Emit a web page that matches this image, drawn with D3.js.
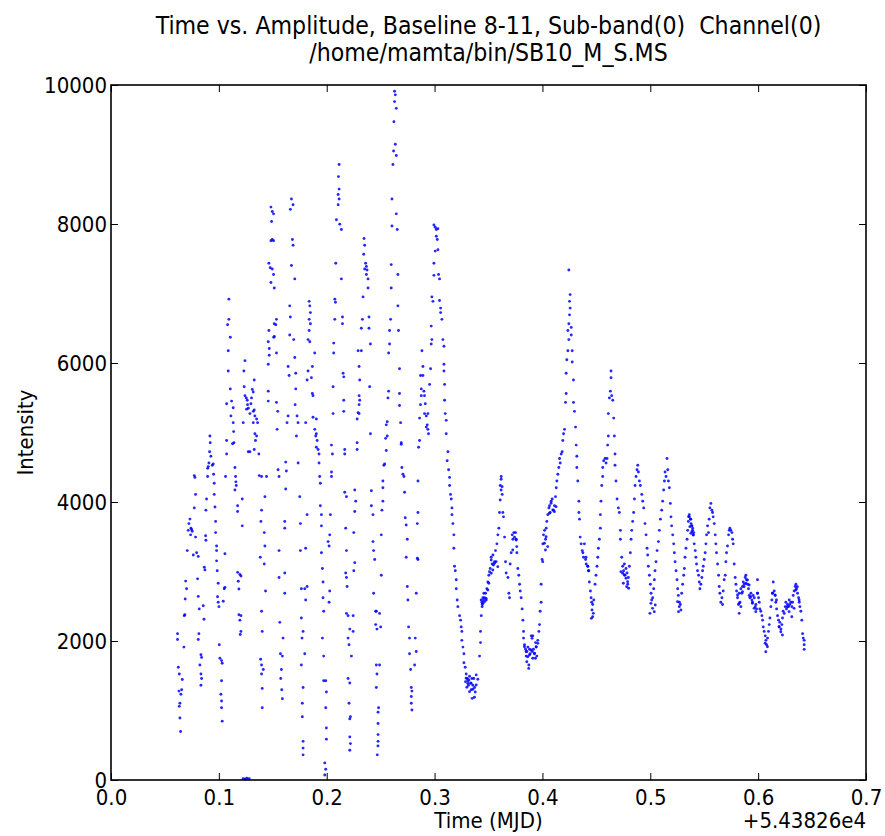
<!DOCTYPE html>
<html>
<head>
<meta charset="utf-8">
<script src="https://cdn.jsdelivr.net/npm/d3@7"></script>
<style>
  body { margin: 0; background: #fff; }
  text { font-family: "DejaVu Sans Condensed", "DejaVu Sans", sans-serif; fill: #000; white-space: pre; }
</style>
</head>
<body>
<script>
// [time (MJD - 54382.6), intensity], grouped by stretch of time
const seg1 = [
  [.0617,2106],[.0617,2022],[.0676,1912],[.0624,1622],[.0633,1525],[.0661,1447],[.0630,1279],[.0655,1299],
  [.0648,1234],[.0639,1105],[.0633,1060],[.0639,892],[.0645,698],[.0679,2365],[.0685,2378],[.0692,2862],
  [.0701,2752],[.0688,2604],[.0707,3301],[.0716,3592],[.0722,3689],[.0732,3754],[.0741,3624],[.0747,3605],
  [.0753,3579],[.0738,3527],[.0784,3495],[.0794,3269],[.0772,3915],[.0784,4109],[.0772,4380],[.0778,4354],
  [.0763,3237],[.0809,3217],[.0803,2894],[.0809,2642],[.0818,2462],[.0815,2106],[.0809,2022],[.0834,1803],
  [.0840,1764],[.0824,1654],[.0834,1525],[.0840,1460],[.0834,1363],[.0855,2507],[.0862,2313],[.0865,3062],
  [.0871,3023],[.0877,3514],[.0880,3450],[.0880,3883],[.0886,4044],[.0896,4367],[.0896,4484],[.0902,4509],
  [.0908,4561],[.0914,4723],[.0920,4852],[.0917,4949],[.0926,4658],[.0939,4529],[.0948,4548],[.0951,4400],
  [.0957,4270],[.0957,4109],[.0964,3928],[.0970,3721],[.0970,3560],[.0979,3366],[.0979,3301],[.0979,3153],
  [.0985,3011],[.0994,2830],[.0988,2636],[.0994,2558],[.1001,2494],[.1041,2571],[.1050,2752],[.1056,2772],
  [.1056,3256],[.1004,1945],[.1010,1751],[.1025,1718],[.1031,1680],[.1025,1428],[.1019,1234],[.1025,1137],
  [.1025,1040],[.1031,847],[.1093,6919],[.1093,6628],[.1081,6551],[.1106,6370],[.1087,6176],[.1087,5885],
  [.1106,5627],[.1072,5414],[.1118,5452],[.1133,5356],[.1112,5239],[.1133,5142],[.1137,5013],[.1127,4839],
  [.1140,4852],[.1072,4884],[.1072,4690],[.1062,4367],[.1149,4496],[.1155,4367],[.1158,4290],[.1161,4238],
  [.1149,4173],[.1174,3947],[.1174,3863],[.1217,4044],[.1217,3657],[.1174,2988],[.1195,2956],[.1205,2936],
  [.1180,2859],[.1186,2749],[.1186,2377],[.1205,2365],[.1195,2300],[.1205,2138],[.1198,2093],[.1242,6034],
  [.1232,5885],[.1235,5659],[.1242,5530],[.1254,5498],[.1263,5465],[.1266,5401],[.1257,5336],[.1273,5349],
  [.1288,5272],[.1226,5142],[.1310,5620],[.1319,5582],[.1303,5498],[.1297,5414],[.1319,5304],[.1328,5323],
  [.1334,5239],[.1350,5194],[.1319,5142],[.1334,4981],[.1350,4949],[.1359,5142],[.1340,4884],[.1328,4755],
  [.1288,4723],[.1273,4723],[.1371,4690],[.1374,4380],[.1396,4367],[.1328,5756],[.1396,2429],[.1402,2138],
  [.1387,1738],[.1396,1654],[.1412,1589],[.1396,1525],[.1402,1318],[.1402,1040],[.1384,3204],[.1390,3721],
  [.1396,3883],[.1427,4077],[.1421,3560],[.1427,3366],[.1421,3108],[.1433,2720],[.1442,4367],[.1464,6467],
  [.1458,6305],[.1467,6208],[.1467,6111],[.1458,5982],[.1458,5595],[.1458,5452],[.1514,6564],[.1514,6383],
  [.1483,8243],[.1495,8179],[.1507,8146],[.1489,8036],[.1483,7759],[.1495,7778],[.1507,7759],[.1464,7436],
  [.1476,7371],[.1495,7352],[.1483,7158],[.1507,7274],[.1514,7080],[.1226,20],[.1245,15],[.1260,25],[.1281,20]
];
const seg2 = [
  [.1534,6628],[.1528,6551],[.1509,6370],[.1534,6144],[.1534,5433],[.1546,5304],[.1540,5045],[.1549,4464],
  [.1558,4367],[.1620,4574],[.1626,4445],[.1620,4186],[.1558,3301],[.1611,3721],[.1611,3624],[.1611,2979],
  [.1558,2914],[.1611,2688],[.1565,2268],[.1595,2042],[.1571,1816],[.1589,1783],[.1580,1589],[.1574,1460],
  [.1583,1299],[.1589,1170],[.1673,8360],[.1688,8276],[.1663,8211],[.1682,7778],[.1688,7694],[.1673,7403],
  [.1704,7210],[.1657,6822],[.1663,6661],[.1657,6402],[.1694,6337],[.1642,5950],[.1651,5821],[.1704,6079],
  [.1713,5853],[.1713,5627],[.1707,5401],[.1725,5239],[.1734,5142],[.1719,4949],[.1642,5239],[.1632,5142],
  [.1735,4561],[.1750,4077],[.1756,3689],[.1756,3301],[.1765,2752],[.1765,2332],[.1781,2138],[.1771,2042],
  [.1765,1654],[.1796,1816],[.1781,1331],[.1774,1105],[.1774,911],[.1781,556],[.1781,459],[.1781,362],
  [.1837,6887],[.1843,6822],[.1849,6725],[.1837,6628],[.1849,6564],[.1837,6467],[.1827,6337],[.1843,6305],
  [.1889,6144],[.1867,5950],[.1827,5885],[.1858,5789],[.1818,5756],[.1867,5562],[.1873,5530],[.1805,5142],
  [.1873,5220],[.1904,5194],[.1889,5045],[.1904,4981],[.1898,4949],[.1911,4884],[.1904,4787],[.1920,4755],
  [.1929,4690],[.1929,4561],[.1935,4367],[.1941,4270],[.1818,3818],[.1805,3334],[.1796,2752],[.1805,2591],
  [.1818,2785],[.1941,3947],[.1951,3818],[.1951,3657],[.1951,3269],[.1960,3043],[.1966,2849],[.1966,2623],
  [.1972,2429],[.1960,2042],[.1972,1783],[.1972,1428],[.1991,1428],[.1997,1266],[.1991,1040],[.1997,749],
  [.1997,588],[.1982,246],[.1991,155],[.1982,71],[.2013,3430],[.2022,3366],[.2028,3527],[.2034,3818],
  [.2028,2720],[.2022,2558]
];
const seg3 = [
  [.2115,8857],[.2109,8682],[.2115,8502],[.2106,8424],[.2115,8360],[.2106,8276],[.2090,8062],[.2121,7998],
  [.2136,7920],[.2084,7436],[.2136,7210],[.2075,6919],[.2081,6874],[.2075,6628],[.2146,6661],[.2146,6564],
  [.2065,6286],[.2065,6144],[.2152,5853],[.2158,5801],[.2059,5659],[.2059,5272],[.2158,5465],[.2158,5304],
  [.2044,4819],[.2053,4690],[.2167,4755],[.2167,4690],[.2044,4432],[.2044,4367],[.2167,4141],[.2183,4077],
  [.2176,3624],[.2183,3301],[.2176,2979],[.2183,2914],[.2189,2785],[.2183,2397],[.2198,2365],[.2214,2171],
  [.2198,2042],[.2207,1945],[.2229,1783],[.2198,1460],[.2214,1395],[.2207,1105],[.2214,879],[.2220,911],
  [.2214,620],[.2220,524],[.2214,427],[.2260,4173],[.2269,4012],[.2260,3863],[.2251,3560],[.2260,3127],
  [.2251,3011],[.2245,2365],[.2245,2138],[.2291,6176],[.2300,5950],[.2306,5756],[.2300,5530],[.2306,5465],
  [.2300,5401],[.2291,5285],[.2300,5272],[.2282,5194],[.2282,4852],[.2282,4755],[.2346,7791],[.2352,7694],
  [.2343,7565],[.2361,7436],[.2368,7390],[.2352,7352],[.2374,7339],[.2368,7274],[.2383,7210],[.2383,7080],
  [.2337,6951],[.2331,6628],[.2392,6661],[.2321,6499],[.2392,6499],[.2321,6176],[.2405,6273],[.2398,5659],
  [.2405,4981],[.2414,4161],[.2414,3947],[.2429,3818],[.2429,3430],[.2435,3301],[.2445,3172],[.2435,2688],
  [.2454,2429],[.2454,2236],[.2466,2171],[.2460,1654],[.2466,1525],[.2460,1331],[.2476,976],[.2476,814],
  [.2476,653],[.2476,556],[.2460,2429],[.2469,362],[.2475,491],[.2481,1040],[.2490,1654],[.2500,2203],
  [.2490,2397]
];
const seg4 = [
  [.2506,2946],[.2506,3527],[.2512,3883],[.2521,4012],[.2521,4206],[.2521,4303],[.2530,4529],[.2537,4548],
  [.2552,4742],[.2546,4916],[.2561,4949],[.2552,5110],[.2561,5155],[.2568,5498],[.2574,5595],[.2574,6144],
  [.2583,6273],[.2583,6467],[.2592,6628],[.2598,7080],[.2598,7416],[.2605,7972],[.2605,8360],[.2614,8857],
  [.2620,9051],[.2623,9471],[.2629,9761],[.2629,9910],[.2636,9858],[.2645,9664],[.2636,9148],[.2645,8986],
  [.2645,8146],[.2654,7920],[.2660,7274],[.2660,6822],[.2666,6467],[.2675,5918],[.2675,5562],[.2675,5388],
  [.2685,5142],[.2691,4852],[.2691,4832],[.2697,4496],[.2707,4400],[.2716,4367],[.2722,4141],[.2728,3773],
  [.2737,3670],[.2747,3463],[.2737,3204],[.2747,2785],[.2753,2591],[.2759,2203],[.2768,2042],[.2768,1816],
  [.2778,1589],[.2784,1331],[.2790,1279],[.2784,1201],[.2784,1105],[.2790,1008],[.2830,1848],[.2815,1654],
  [.2821,2042],[.2830,2688],[.2840,3191],[.2846,3172],[.2840,3689],[.2846,3850],[.2846,4303],[.2852,4787],
  [.2861,4884],[.2861,5207],[.2870,5401],[.2877,5530],[.2877,5627],[.2883,6176],[.2892,5950],[.2870,5821],
  [.2892,5821],[.2901,5595],[.2907,5530],[.2914,5414],[.2907,5272],[.2923,5239],[.2938,5272],[.2932,5110],
  [.2938,5045],[.2944,4981],[.2923,5078],[.2954,5692],[.2963,5918],[.2969,6531],[.2975,6337],[.2969,6273],
  [.2994,7985],[.3006,7953],[.3016,7920],[.3031,7933],[.3016,7823],[.3025,7778],[.3006,7610],[.3031,7629],
  [.2994,7436],[.2994,7261],[.3037,7274],[.3046,7210],[.2975,6951],[.2985,6887],[.3046,6900],[.3056,6790],
  [.3056,6725],[.3068,6628],[.3077,6337],[.3087,6241],[.3087,5982],[.3087,5885],[.3093,5692],[.3093,5465],
  [.3099,5272],[.3108,5175],[.3108,4981],[.3124,4723],[.3117,4593],[.3130,4464],[.3139,4354],[.3139,4238],
  [.3148,4109],[.3155,4044],[.3161,3915],[.3161,3818],[.3170,3689],[.3179,3527],[.3179,3334],[.3185,3075],
  [.3192,3011],[.3201,2882],[.3201,2752],[.3210,2591],[.3216,2494],[.3232,2365],[.3241,2300],[.3247,2203],
  [.3253,2138],[.3253,2009],[.3263,1912],[.3272,1816],[.3272,1687],[.3284,1622],[.3293,1525],[.3303,1460],
  [.3309,1428],[.3324,1492],[.3334,1395],[.3346,1460],[.3355,1363],[.3364,1460],[.3371,1331],[.3377,1266],
  [.3386,1512],[.3315,1363],[.3340,1299],[.3417,1783],[.3426,1977],[.3426,2138],[.3433,2365],[.3439,2558],
  [.3448,2623],[.3457,2688],
  [.3293,1463],[.3318,1439],[.3339,1391],[.3299,1334],[.3355,1305],[.3324,1271],[.3386,1367],[.3401,1449],
  [.3370,1190],[.3349,1175],[.3308,1391],[.3287,1415]
];
const seg5 = [
  [.3442,2526],[.3454,2591],[.3463,2623],[.3473,2688],[.3479,2591],[.3485,2752],[.3494,2849],[.3503,2946],
  [.3516,3043],[.3525,3204],[.3534,3108],[.3541,3237],[.3556,3140],[.3565,3301],[.3578,3398],[.3587,3527],
  [.3596,3624],[.3602,3850],[.3609,4238],[.3618,4367],[.3627,4109],[.3633,3850],[.3639,3786],[.3649,3495],
  [.3658,3140],[.3664,2979],[.3680,2914],[.3689,2688],[.3695,2623],[.3701,3108],[.3710,3269],[.3720,3527],
  [.3726,3463],[.3735,3560],[.3751,3560],[.3757,3463],[.3763,3269],[.3772,3043],[.3781,2946],[.3788,2817],
  [.3794,2720],[.3803,2623],[.3812,2462],[.3819,2300],[.3825,2138],[.3825,2042],[.3834,1945],[.3843,1881],
  [.3849,1783],[.3856,1848],[.3865,1912],[.3874,1654],[.3880,1881],[.3886,1816],[.3896,2074],[.3905,1848],
  [.3911,2074],[.3917,1881],[.3926,1816],[.3936,1977],[.3942,1912],[.3948,1783],[.3957,2009],[.3967,2138],
  [.3973,2236],[.3979,2429],[.3988,2558],[.3988,2817],[.3997,3172],[.4004,3398],[.4010,3527],[.4020,3592],
  [.4029,3463],[.4035,3624],[.4041,3721],[.4050,3818],[.4060,3915],[.4066,3947],[.4072,3850],[.4081,4012],
  [.4091,4044],[.4103,3883],[.4112,3947],[.4121,4077],[.4128,4206],[.4134,4303],[.4143,4400],[.4152,4496],
  [.4159,4626],[.4165,4561],[.4174,4690],[.4183,4723],[.4189,4884],[.4196,4981],[.4205,5045],[.4214,5433],
  [.4220,5562],[.4220,5853],[.4226,6047],[.4236,6176],[.4245,6337],[.4236,6467],[.4245,6564],[.4251,6693],
  [.4257,6790],[.4251,6887],[.4257,6984],[.4245,7339],[.4267,6512],[.4267,6402],[.4276,6176],[.4276,6015],
  [.4288,5756],[.4288,5433],[.4297,5304],[.4307,5078],[.4313,4819],[.4319,4658],[.4319,4496],[.4328,4303],
  [.4338,4012],[.4338,3850],[.4344,3753],[.4350,3495],[.4359,3398],[.4369,3301],[.4375,3269],[.4381,3204],
  [.4400,3172],[.4406,3108],[.4421,3075],[.4430,3011],[.4389,3398],[.4404,3204],[.4420,3075],[.4426,3011],
  [.4435,2849],[.4445,2720],[.4451,2623],[.4457,2558],[.4466,2526],[.4476,2591],[.4488,2817],[.4497,2946],
  [.4506,3075],[.4513,3204],[.4519,3334],[.4528,3463],[.4537,3624],[.4537,3818],[.4543,4012],[.4550,4238],
  [.4559,4367],[.4559,4496],[.4568,4593],[.4581,4626],[.4590,4561],[.4599,4626],[.4605,4819],[.4611,4949],
  [.4611,5272],[.4621,5498],[.4630,5595],[.4636,5788],[.4636,5885],[.4642,5530],[.4652,5465],[.4661,5207],
  [.4667,4949],[.4673,4690],[.4673,4529],[.4682,4303],[.4692,4044],[.4704,3915],[.4713,3850],[.4723,3592],
  [.4723,3463],[.4735,3204],[.4744,3075],[.4753,3011],[.4760,3108],[.4766,2946],[.4775,3043],[.4784,2979],
  [.4791,2817],[.4797,2914],[.4806,3075],[.4815,3269],[.4822,3463],[.4828,3592],[.4837,3721],[.4846,3850],
  [.4853,4044],[.4859,4238],[.4868,4367],[.4877,4464],[.4884,4529],[.4890,4432],[.4899,4303],[.4908,4238],
  [.4921,4109],[.4930,4012],[.4939,3915],[.4951,3689],[.4961,3527],[.4970,3334],[.4976,3237],[.4982,3075],
  [.4992,2946],[.5001,2817],[.5007,2688],[.5013,2591],[.5022,2623],[.5032,2752],[.5038,2882],[.5044,3011],
  [.5053,3140],[.5063,3301],[.5075,3430],[.5084,3592],[.5094,3753],[.5106,3883],[.5115,4012],[.5124,4173],
  [.5131,4303],[.5137,4432],[.5146,4367],[.5155,4626],[.5162,4464],[.5168,4303],[.5177,4206],[.5186,3980],
  [.5192,3786],[.5198,3657],[.5208,3527],[.5217,3398],[.5223,3269],[.5230,3140],[.5239,3011],[.5248,2882],
  [.5254,2752],[.5260,2656],[.5270,2558],[.5279,2526],[.5291,2688],[.5300,2817],[.5310,2946],[.5316,3043],
  [.5322,3204],[.5331,3334],[.5341,3463],[.5347,3592],[.5353,3721],[.5362,3786],[.5372,3753],[.5378,3689],
  [.5384,3657],[.5393,3624],[.5403,3560],
  [.3432,2590],[.3448,2542],[.3463,2566],[.3478,2614],[.3441,2494],[.3494,2734],[.3503,2830],[.3525,2974],
  [.3540,3022],[.3556,3118],[.3571,3142],[.3586,3070],[.3525,3166],[.3546,3094],[.3509,2998],
  [.3833,1918],[.3849,1846],[.3864,1774],[.3880,1799],[.3895,1871],[.3910,1751],[.3926,1823],[.3942,1918],
  [.3855,1702],[.3873,1606],[.3904,2038],[.3935,1751],[.3957,1966],
  [.3741,3492],[.3756,3454],[.3762,3358],[.3725,3310],[.3617,4327],[.3626,4221],[.3617,4173],[.3608,4029],
  [.4080,3982],[.4096,3885],[.4111,3861],[.4065,3838],[.4127,3933],[.4034,3501],[.4019,3406],[.4049,3358],
  [.4028,3310],[.4003,3142],
  [.4460,2446],[.4472,2398],[.4466,2350],[.4454,2326],[.4728,2998],[.4744,2974],[.4759,2950],[.4775,2902],
  [.4790,2854],[.4781,2782],[.4799,2758],[.4750,2830],[.5006,2542],[.5021,2470],[.5037,2422],[.4997,2398],
  [.5046,2518],[.5253,2566],[.5269,2494],[.5284,2446],[.5262,2422],[.5355,3789],[.5367,3645],[.5386,3573],
  [.5398,3525],[.5376,3549]
];
const seg6 = [
  [.5361,3818],[.5376,3753],[.5386,3657],[.5392,3592],[.5398,3527],[.5407,3398],[.5417,3301],[.5423,3204],
  [.5429,3108],[.5438,3011],[.5448,2946],[.5454,2849],[.5460,2752],[.5469,2817],[.5478,2914],[.5485,3011],
  [.5491,3075],[.5500,3172],[.5509,3269],[.5516,3398],[.5522,3527],[.5531,3657],[.5540,3560],[.5546,3753],
  [.5553,3915],[.5562,3980],[.5571,3883],[.5577,3850],[.5583,3786],[.5593,3689],[.5602,3527],[.5608,3398],
  [.5614,3269],[.5624,3108],[.5633,2946],[.5639,2785],[.5645,2688],[.5654,2558],[.5664,2623],[.5670,2526],
  [.5676,2720],[.5685,2882],[.5695,2946],[.5701,3140],[.5707,3269],[.5716,3366],[.5726,3527],[.5732,3592],
  [.5738,3624],[.5747,3592],[.5757,3560],[.5763,3463],[.5769,3398],[.5778,3108],[.5787,2914],[.5794,2817],
  [.5800,2720],[.5809,2623],[.5818,2526],[.5825,2688],[.5831,2558],[.5840,2752],[.5849,2688],[.5855,2785],
  [.5862,2849],[.5871,2817],[.5880,2914],[.5886,2946],[.5892,2882],[.5902,2817],[.5911,2752],[.5917,2656],
  [.5923,2623],[.5933,2688],[.5942,2591],[.5948,2558],[.5954,2656],[.5964,2623],[.5973,2494],[.5979,2526],
  [.5985,2462],[.5994,2882],[.5994,2688],[.6004,2623],[.6010,2558],[.6016,2462],[.6025,2429],[.6035,2365],
  [.6041,2300],[.6047,2203],[.6056,2138],[.6066,2074],[.6072,2009],[.6078,1945],[.6087,2042],[.6096,2138],
  [.6103,2236],[.6109,2332],[.6118,2494],[.6127,2591],[.6133,2688],[.6140,2849],[.6149,2720],[.6158,2656],
  [.6164,2558],[.6171,2462],[.6180,2365],[.6189,2300],[.6195,2203],[.6201,2268],[.6211,2171],[.6220,2236],
  [.6226,2332],[.6232,2429],[.6242,2397],[.6251,2494],[.6257,2558],[.6263,2462],[.6272,2526],[.6282,2494],
  [.6288,2591],[.6294,2526],[.6303,2558],[.6313,2494],[.6319,2558],[.6325,2656],[.6334,2720],[.6344,2785],
  [.6350,2817],[.6356,2752],[.6365,2688],[.6375,2623],[.6381,2558],[.6387,2494],[.6396,2429],[.6405,2300],
  [.6412,2106],[.6418,2042],[.6427,2009],[.6427,1945],[.6427,1880],
  [.5809,2662],[.5824,2542],[.5840,2494],[.5855,2710],[.5870,2782],[.5886,2830],[.5901,2878],[.5917,2806],
  [.5932,2638],[.5947,2542],[.5963,2470],[.5978,2422],[.5994,2686],[.5824,2398],[.6065,1967],[.6086,1918],
  [.6071,1846],[.6133,2686],[.6157,2662],[.6170,2590],[.6194,2206],[.6210,2134],[.6225,2086],[.6271,2494],
  [.6287,2422],[.6312,2350],[.6333,2470],[.6349,2734],[.6364,2782],[.6380,2590]
];

const xTicks = [0.0, 0.1, 0.2, 0.3, 0.4, 0.5, 0.6, 0.7];
const yTicks = [0, 2000, 4000, 6000, 8000, 10000];
const titleLines = ["Time vs. Amplitude, Baseline 8-11, Sub-band(0)  Channel(0)", "/home/mamta/bin/SB10_M_S.MS"];
const xLabel = "Time (MJD)";
const yLabel = "Intensity";
const xOffset = "+5.43826e4";

const width = 885, height = 836;
const plotL = 111, plotR = 866, plotT = 85, plotB = 780;

const svg = d3.select("body").append("svg")
    .attr("width", width)
    .attr("height", height);

const x = d3.scaleLinear().domain([0, 0.7]).range([plotL, plotR]);
const y = d3.scaleLinear().domain([0, 10000]).range([plotB, plotT]);

const points = seg1.concat(seg2, seg3, seg4, seg5, seg6);

svg.append("g")
  .selectAll("circle")
  .data(points)
  .join("circle")
    .attr("cx", d => x(d[0]))
    .attr("cy", d => y(d[1]))
    .attr("r", 1.45)
    .attr("fill", "#0000ff")
    .attr("fill-opacity", 0.85);

// ticks point inward on all four sides, like matplotlib
const styleAxis = g => {
  g.select(".domain").remove();
  g.selectAll(".tick line").attr("stroke", "#000").attr("stroke-width", 1);
  g.selectAll(".tick text").attr("font-size", 22).attr("font-family", null);
};

svg.append("g")
    .attr("transform", `translate(0,${plotB})`)
    .call(d3.axisBottom(x).tickValues(xTicks).tickFormat(d3.format(".1f")).tickSize(-7).tickPadding(9))
    .call(styleAxis);
svg.append("g")
    .attr("transform", `translate(0,${plotT})`)
    .call(d3.axisTop(x).tickValues(xTicks).tickFormat("").tickSize(-7))
    .call(styleAxis);
svg.append("g")
    .attr("transform", `translate(${plotL},0)`)
    .call(d3.axisLeft(y).tickValues(yTicks).tickFormat(d3.format("d")).tickSize(-7).tickPadding(4))
    .call(styleAxis);
svg.append("g")
    .attr("transform", `translate(${plotR},0)`)
    .call(d3.axisRight(y).tickValues(yTicks).tickFormat("").tickSize(-7))
    .call(styleAxis);

svg.append("rect")
    .attr("x", plotL).attr("y", plotT)
    .attr("width", plotR - plotL).attr("height", plotB - plotT)
    .attr("fill", "none").attr("stroke", "#000").attr("stroke-width", 1.6);

svg.selectAll(".title")
  .data(titleLines)
  .join("text")
    .attr("class", "title")
    .attr("x", (plotL + plotR) / 2)
    .attr("y", (d, i) => 34 + i * 27)
    .attr("text-anchor", "middle")
    .attr("font-size", 24.6)
    .text(d => d);

svg.append("text")
    .attr("x", (plotL + plotR) / 2)
    .attr("y", 828)
    .attr("text-anchor", "middle")
    .attr("font-size", 22)
    .text(xLabel);

svg.append("text")
    .attr("x", plotR)
    .attr("y", 828)
    .attr("text-anchor", "end")
    .attr("font-size", 22)
    .text(xOffset);

svg.append("text")
    .attr("transform", `translate(33,${(plotT + plotB) / 2}) rotate(-90)`)
    .attr("text-anchor", "middle")
    .attr("font-size", 22)
    .text(yLabel);
</script>
</body>
</html>
